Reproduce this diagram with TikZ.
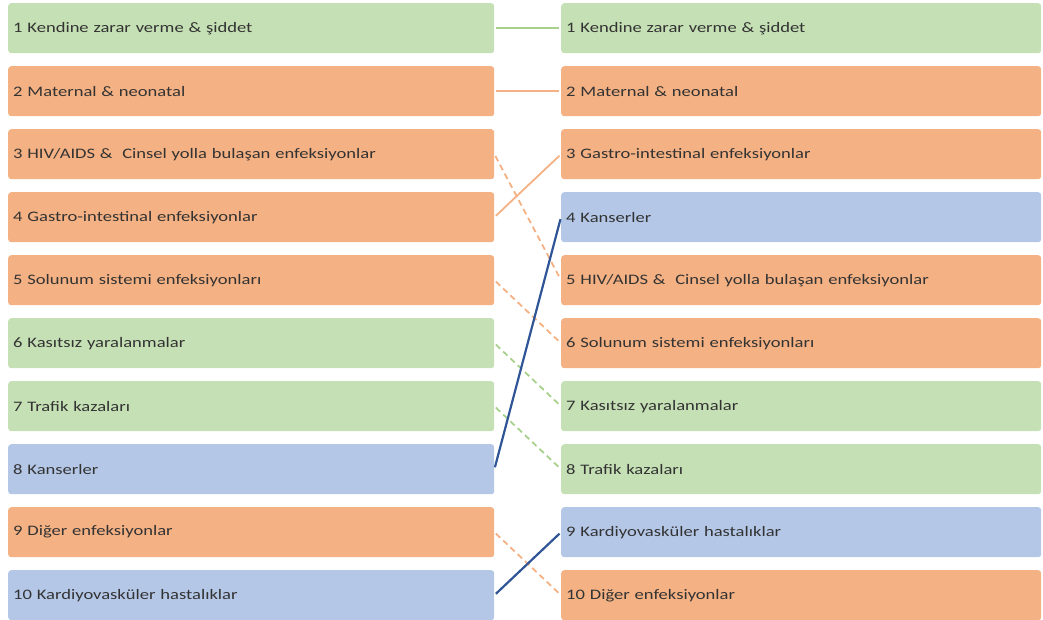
\documentclass[tikz,border=0pt]{standalone}
\usepackage{fontspec}
\newfontfamily\labfont[FakeStretch=1.28]{Carlito}
\definecolor{gfill}{HTML}{C5E0B4}
\definecolor{ofill}{HTML}{F4B183}
\definecolor{bfill}{HTML}{B4C7E7}
\definecolor{gline}{HTML}{A9D18E}
\definecolor{oline}{HTML}{F4B183}
\definecolor{bline}{HTML}{2F5597}
\definecolor{txt}{HTML}{333333}
\tikzset{
  box/.style={anchor=north west, rounded corners=3pt, minimum height=50pt,
    inner xsep=5pt, inner ysep=0pt, align=left, text=txt,
    font=\labfont\fontsize{14.5}{16}\selectfont},
  lbox/.style={box, minimum width=486pt, text width=476pt},
  rbox/.style={box, minimum width=480pt, text width=470pt},
  gbox/.style={fill=gfill}, obox/.style={fill=ofill}, bbox/.style={fill=bfill},
  conn/.style={line width=1.8pt, shorten <=2pt, shorten >=2pt},
  dashconn/.style={conn, dash pattern=on 6pt off 4pt},
  blueconn/.style={conn, bline, line width=2.2pt},
}
\begin{document}
\begin{tikzpicture}[x=1pt,y=-1pt]
\useasboundingbox (0,0) rectangle (1043,619);
% left column
\node[lbox,gbox] (l1) at (8,3)   {1 Kendine zarar verme \& şiddet};
\node[lbox,obox] (l2) at (8,66)  {2 Maternal \& neonatal};
\node[lbox,obox] (l3) at (8,129) {3 HIV/AIDS \&\ \ Cinsel yolla bulaşan enfeksiyonlar};
\node[lbox,obox] (l4) at (8,192) {4 Gastro-intestinal enfeksiyonlar};
\node[lbox,obox] (l5) at (8,255) {5 Solunum sistemi enfeksiyonları};
\node[lbox,gbox] (l6) at (8,318) {6 Kasıtsız yaralanmalar};
\node[lbox,gbox] (l7) at (8,381) {7 Trafik kazaları};
\node[lbox,bbox] (l8) at (8,444) {8 Kanserler};
\node[lbox,obox] (l9) at (8,507) {9 Diğer enfeksiyonlar};
\node[lbox,bbox] (l10) at (8,570) {10 Kardiyovasküler hastalıklar};
% right column
\node[rbox,gbox] (r1) at (561,3)   {1 Kendine zarar verme \& şiddet};
\node[rbox,obox] (r2) at (561,66)  {2 Maternal \& neonatal};
\node[rbox,obox] (r3) at (561,129) {3 Gastro-intestinal enfeksiyonlar};
\node[rbox,bbox] (r4) at (561,192) {4 Kanserler};
\node[rbox,obox] (r5) at (561,255) {5 HIV/AIDS \&\ \ Cinsel yolla bulaşan enfeksiyonlar};
\node[rbox,obox] (r6) at (561,318) {6 Solunum sistemi enfeksiyonları};
\node[rbox,gbox] (r7) at (561,381) {7 Kasıtsız yaralanmalar};
\node[rbox,gbox] (r8) at (561,444) {8 Trafik kazaları};
\node[rbox,bbox] (r9) at (561,507) {9 Kardiyovasküler hastalıklar};
\node[rbox,obox] (r10) at (561,570) {10 Diğer enfeksiyonlar};
% connectors
\draw[conn, gline] (l1.east) -- (r1.west);
\draw[conn, oline] (l2.east) -- (r2.west);
\draw[dashconn, oline] (l3.east) -- (r5.west);
\draw[conn, oline] (l4.east) -- (r3.west);
\draw[dashconn, oline] (l5.east) -- (r6.west);
\draw[dashconn, gline] (l6.east) -- (r7.west);
\draw[dashconn, gline] (l7.east) -- (r8.west);
\draw[dashconn, oline] (l9.east) -- (r10.west);
\draw[blueconn] (l8.east) -- (r4.west);
\draw[blueconn] (l10.east) -- (r9.west);
\end{tikzpicture}
\end{document}
